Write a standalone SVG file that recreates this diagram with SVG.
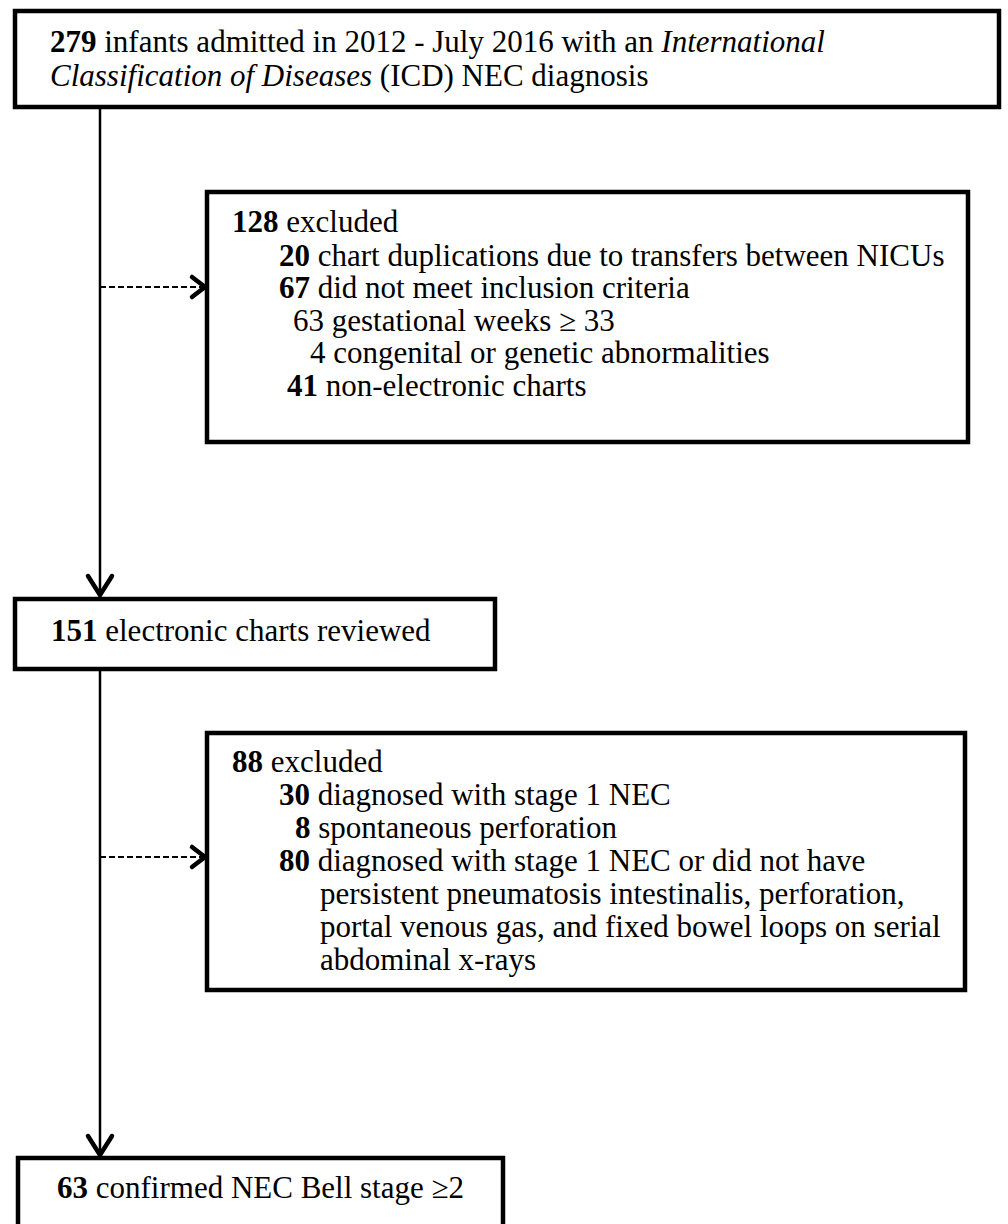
<svg xmlns="http://www.w3.org/2000/svg" width="1008" height="1224" viewBox="0 0 1008 1224">
<style>
.box{fill:#fff;stroke:#000;stroke-width:4.5}
.t{font-family:"Liberation Serif","Times New Roman",serif;font-size:31px;fill:#000}
.b{font-weight:bold}
.i{font-style:italic}
.line{fill:none;stroke:#000;stroke-width:2.5}
.dash{fill:none;stroke:#000;stroke-width:2;stroke-dasharray:6 3}
.head{fill:none;stroke:#000;stroke-width:4.5;stroke-linecap:round;stroke-linejoin:miter}
</style>
<rect width="1008" height="1224" fill="#fff"/>
<g id="connectors">
<line class="line" x1="100" y1="108" x2="100" y2="594"/>
<path class="head" d="M88 576 L100 595 L112 576"/>
<line class="dash" x1="100" y1="287" x2="203" y2="287"/>
<path class="head" d="M192 277 L205 287 L192 297"/>
<line class="line" x1="100" y1="670" x2="100" y2="1154"/>
<path class="head" d="M88 1136 L100 1155 L112 1136"/>
<line class="dash" x1="100" y1="857" x2="203" y2="857"/>
<path class="head" d="M192 847 L205 857 L192 867"/>
</g>
<g id="n279">
<rect class="box" x="15" y="11" width="984" height="96"/>
<text class="t" x="50" y="52"><tspan class="b">279</tspan> infants admitted in 2012 - July 2016 with an <tspan class="i">International</tspan></text>
<text class="t" x="50" y="86"><tspan class="i">Classification of Diseases</tspan> (ICD) NEC diagnosis</text>
</g>
<g id="n128">
<rect class="box" x="207" y="192" width="761" height="250"/>
<text class="t" x="232" y="232"><tspan class="b">128</tspan> excluded</text>
<text class="t" x="279" y="266"><tspan class="b">20</tspan> chart duplications due to transfers between NICUs</text>
<text class="t" x="279" y="298"><tspan class="b">67</tspan> did not meet inclusion criteria</text>
<text class="t" x="293" y="331">63 gestational weeks ≥ 33</text>
<text class="t" x="310" y="363">4 congenital or genetic abnormalities</text>
<text class="t" x="287" y="396"><tspan class="b">41</tspan> non-electronic charts</text>
</g>
<g id="n151">
<rect class="box" x="15" y="599" width="480" height="70"/>
<text class="t" x="51" y="641"><tspan class="b">151</tspan> electronic charts reviewed</text>
</g>
<g id="n88">
<rect class="box" x="207" y="733" width="758" height="257"/>
<text class="t" x="232" y="772"><tspan class="b">88</tspan> excluded</text>
<text class="t" x="279" y="805"><tspan class="b">30</tspan> diagnosed with stage 1 NEC</text>
<text class="t" x="295" y="838"><tspan class="b">8</tspan> spontaneous perforation</text>
<text class="t" x="279" y="871"><tspan class="b">80</tspan> diagnosed with stage 1 NEC or did not have</text>
<text class="t" x="320" y="904">persistent pneumatosis intestinalis, perforation,</text>
<text class="t" x="320" y="937">portal venous gas, and fixed bowel loops on serial</text>
<text class="t" x="320" y="970">abdominal x-rays</text>
</g>
<g id="n63">
<rect class="box" x="18" y="1158" width="485" height="80"/>
<text class="t" x="57" y="1198"><tspan class="b">63</tspan> confirmed NEC Bell stage ≥2</text>
</g>
</svg>
